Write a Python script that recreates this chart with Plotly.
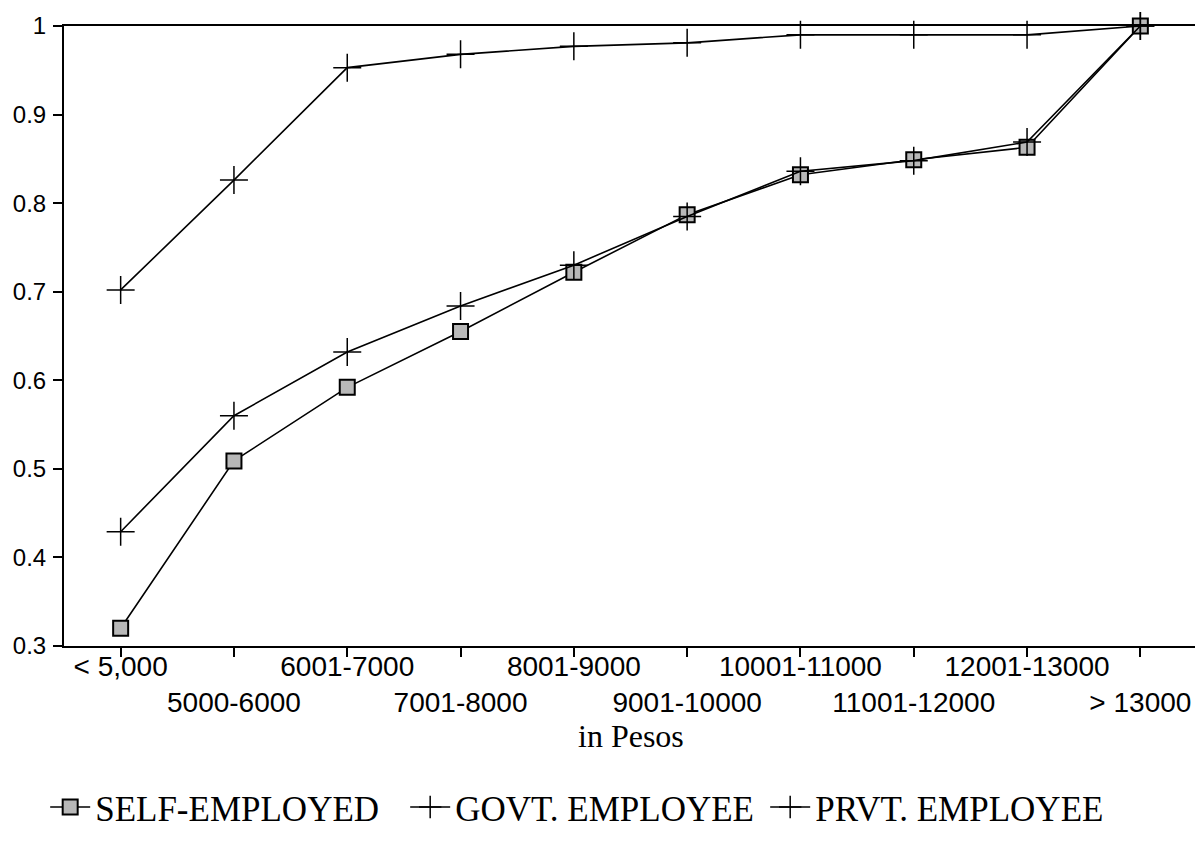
import plotly.graph_objects as go

categories = ['< 5,000', '5000-6000', '6001-7000', '7001-8000', '8001-9000',
              '9001-10000', '10001-11000', '11001-12000', '12001-13000', '> 13000']
self_employed = [0.320, 0.509, 0.592, 0.655, 0.722, 0.787, 0.832, 0.849, 0.863, 1.0]
govt_employee = [0.702, 0.826, 0.953, 0.968, 0.977, 0.981, 0.990, 0.990, 0.990, 1.0]
prvt_employee = [0.429, 0.560, 0.632, 0.684, 0.730, 0.785, 0.836, 0.848, 0.869, 1.0]
y_ticks = [0.3, 0.4, 0.5, 0.6, 0.7, 0.8, 0.9, 1.0]
y_labels = ['0.3', '0.4', '0.5', '0.6', '0.7', '0.8', '0.9', '1']

# alternate labels on two rows like the original
x_labels = [c if i % 2 == 0 else '<br>' + c for i, c in enumerate(categories)]

serif = 'Liberation Serif, Times New Roman, serif'
sans = 'Liberation Sans, Arial, sans-serif'

fig = go.Figure()
fig.add_trace(go.Scatter(
    x=categories, y=self_employed, name='SELF-EMPLOYED', mode='lines+markers',
    line=dict(color='black', width=1.6),
    marker=dict(symbol='square', size=15, color='#b8b8b8', line=dict(color='black', width=2)),
    cliponaxis=False))
fig.add_trace(go.Scatter(
    x=categories, y=govt_employee, name='GOVT. EMPLOYEE', mode='lines+markers',
    line=dict(color='black', width=1.6),
    marker=dict(symbol='cross-thin', size=20, line=dict(color='black', width=1.5)),
    cliponaxis=False))
fig.add_trace(go.Scatter(
    x=categories, y=prvt_employee, name='PRVT. EMPLOYEE', mode='lines+markers',
    line=dict(color='black', width=1.6),
    marker=dict(symbol='cross-thin', size=20, line=dict(color='black', width=1.5)),
    cliponaxis=False))

# page body has an 8px margin, so the figure is a bit smaller than the window
fig.update_layout(
    width=1195, height=835,
    margin=dict(l=56, r=6, t=18, b=187),
    plot_bgcolor='white', paper_bgcolor='white',
    showlegend=True,
    legend=dict(orientation='h', x=0.46, xanchor='center', y=-0.26, yanchor='middle',
                font=dict(family=serif, size=35, color='black'),
                itemwidth=40, entrywidth=305),
    xaxis=dict(type='category', tickmode='array', tickvals=categories, ticktext=x_labels,
               range=[-0.5, 9.5], showgrid=False, zeroline=False, automargin=False,
               tickangle=0, ticklabelstandoff=-15,
               showline=True, linecolor='black', linewidth=2, mirror=True,
               ticks='outside', ticklen=9, tickwidth=2, tickcolor='black',
               tickfont=dict(family=sans, size=28, color='black')),
    yaxis=dict(range=[0.3, 1.0], tickmode='array', tickvals=y_ticks, ticktext=y_labels,
               showgrid=False, zeroline=False, automargin=False, ticklabelstandoff=2,
               showline=True, linecolor='black', linewidth=2, mirror=True,
               ticks='outside', ticklen=9, tickwidth=2, tickcolor='black',
               tickfont=dict(family=sans, size=24, color='black')),
    annotations=[dict(text='in Pesos', xref='paper', yref='paper', x=0.5, y=-0.145,
                      xanchor='center', yanchor='middle', showarrow=False,
                      font=dict(family=serif, size=32, color='black'))],
)

fig.write_html('out.html')
